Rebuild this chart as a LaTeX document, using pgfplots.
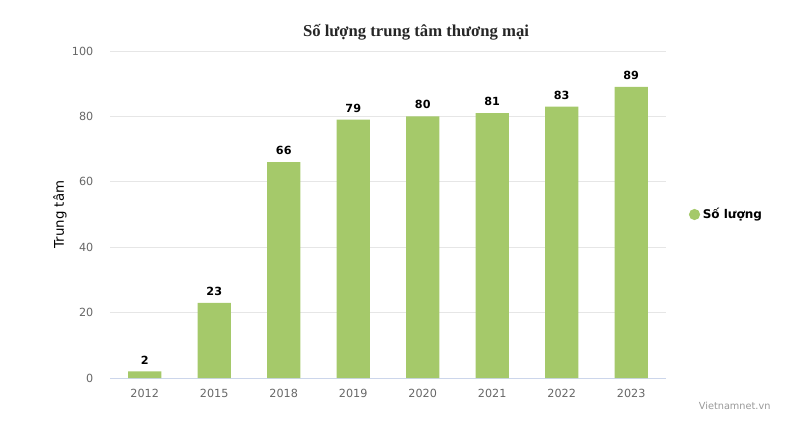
\documentclass[border=0pt]{standalone}
\usepackage{fontspec}
\setmainfont{DejaVu Sans}
\newfontfamily\titlefont{Liberation Serif}
\usepackage{pgfplots}
\pgfplotsset{compat=1.18}

\definecolor{barclr}{HTML}{A5C96A}
\definecolor{gridclr}{HTML}{E6E6E6}
\definecolor{axisclr}{HTML}{CCD6EB}
\definecolor{tickclr}{HTML}{666666}
\definecolor{lblclr}{HTML}{333333}

\begin{document}
\begin{tikzpicture}[x=1pt,y=1pt]
\useasboundingbox (0,0) rectangle (608.25,322.5);
\begin{axis}[
    at={(82.5pt,39pt)}, anchor=south west,
    scale only axis,
    width=417pt, height=245.25pt,
    xmin=-0.5, xmax=7.5,
    ymin=0, ymax=100,
    xtick=data,
    xticklabels={2012,2015,2018,2019,2020,2021,2022,2023},
    ytick={0,20,...,100},
    major tick length=0pt,
    ymajorgrids,
    grid style={gridclr, line width=0.75pt},
    axis y line*=left,
    y axis line style={draw=none},
    axis x line*=bottom,
    x axis line style={axisclr, line width=0.75pt, -},
    /pgf/number format/assume math mode=true,
    ticklabel style={font=\fontsize{8.4}{10}\selectfont, text=tickclr},
    yticklabel style={anchor=east, xshift=-9pt},
    xticklabel style={anchor=north, yshift=-5pt},
    ylabel={Trung tâm},
    ylabel style={font=\fontsize{9}{11}\selectfont, text=lblclr},
    every axis y label/.style={at={(axis description cs:0,0.5)}, xshift=-37.5pt, rotate=90, anchor=center},
    legend style={at={(axis description cs:1,0.5)}, anchor=west, xshift=14pt,
        draw=none, fill=none, font=\bfseries\fontsize{9}{11}\selectfont, text=black,
        /tikz/every even column/.append style={column sep=2pt}},
    legend image code/.code={\fill[barclr] (0.1cm,0) circle (4.2pt);},
    nodes near coords,
    every node near coord/.append style={font=\bfseries\fontsize{8.4}{10}\selectfont, text=black, yshift=2pt},
    clip=false,
]
\addplot[ybar, bar width=25pt, fill=barclr, draw=none] coordinates {
    (0,2) (1,23) (2,66) (3,79) (4,80) (5,81) (6,83) (7,89)
};
\addlegendentry{Số lượng}
\end{axis}
\node[font=\titlefont\bfseries\fontsize{12.5}{14}\selectfont, text=black!85] at (312,298.5) {Số lượng trung tâm thương mại};
\node[font=\fontsize{7.3}{9}\selectfont, text=gray!80] at (551,18) {Vietnamnet.vn};
\end{tikzpicture}
\end{document}
